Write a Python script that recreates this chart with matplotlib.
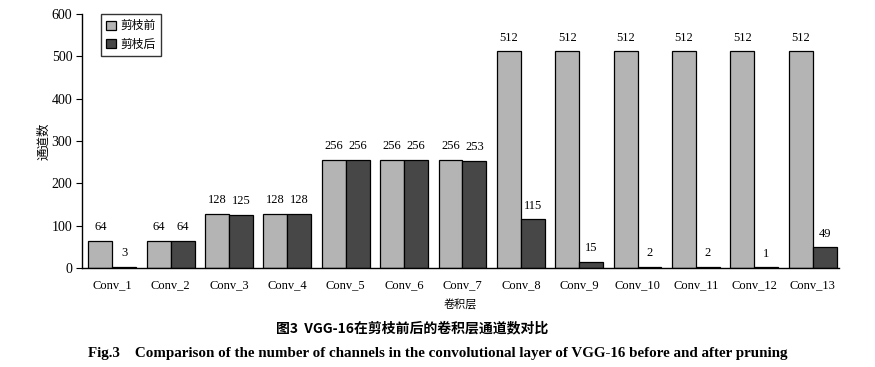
import numpy as np
import matplotlib
matplotlib.use("Agg")
import matplotlib.pyplot as plt

layers = [f'Conv_{i}' for i in range(1, 14)]
before = [64, 64, 128, 128, 256, 256, 256, 512, 512, 512, 512, 512, 512]
after = [3, 64, 125, 128, 256, 256, 253, 115, 15, 2, 2, 1, 49]

LIGHT, DARK = '#b4b4b4', '#474747'
SERIF = ['Liberation Serif', 'DejaVu Serif']
CJK = ['Noto Sans CJK SC', 'DejaVu Sans']
plt.rcParams.update({'font.family': SERIF, 'font.size': 9,
                     'axes.linewidth': 1.0})

fig = plt.figure(figsize=(8.75, 3.67), dpi=100)
ax = fig.add_axes([0.0937, 0.27, 0.865, 0.692])

x = np.arange(len(layers))
w = 0.41
b1 = ax.bar(x - w / 2, before, w, color=LIGHT, edgecolor='black', lw=0.9, label='剪枝前')
b2 = ax.bar(x + w / 2, after, w, color=DARK, edgecolor='black', lw=0.9, label='剪枝后')
for bars, vals in [(b1, before), (b2, after)]:
    for r, v in zip(bars, vals):
        ax.annotate(str(v), (r.get_x() + r.get_width() / 2, v), xytext=(0, 5.5),
                    textcoords='offset points', ha='center', va='bottom', fontsize=9)

ax.set_xlim(-0.52, 12.45)
ax.set_ylim(0, 600)
ax.set_yticks(range(0, 601, 100))
ax.set_xticks(x)
ax.set_xticklabels(layers)
ax.tick_params(axis='x', length=0, pad=8, labelsize=9)
ax.tick_params(axis='y', length=4, direction='out', pad=3, labelsize=10)
ax.spines[['top', 'right']].set_visible(False)
ax.set_xlabel('卷积层', family=CJK, fontsize=8, labelpad=6)
ax.set_ylabel('通道数', family=CJK, fontsize=9, labelpad=1)

leg = ax.legend(loc='upper left', bbox_to_anchor=(0.025, 1.0), borderaxespad=0,
                prop={'family': CJK, 'size': 8.5},
                frameon=True, fancybox=False, edgecolor='black', handlelength=0.8,
                handleheight=0.8, handletextpad=0.4, borderpad=0.45, labelspacing=0.45)
leg.get_frame().set_linewidth(1.0)

fig.text(0.471, 0.106, '图3  VGG-16在剪枝前后的卷积层通道数对比', family=CJK,
         fontsize=10, weight='bold', ha='center', va='center')
fig.text(0.1, 0.038, 'Fig.3    Comparison of the number of channels in the convolutional layer of VGG-16 before and after pruning',
         fontsize=10.8, weight='bold', ha='left', va='center')

fig.savefig('out.png', dpi=100, facecolor='white')
